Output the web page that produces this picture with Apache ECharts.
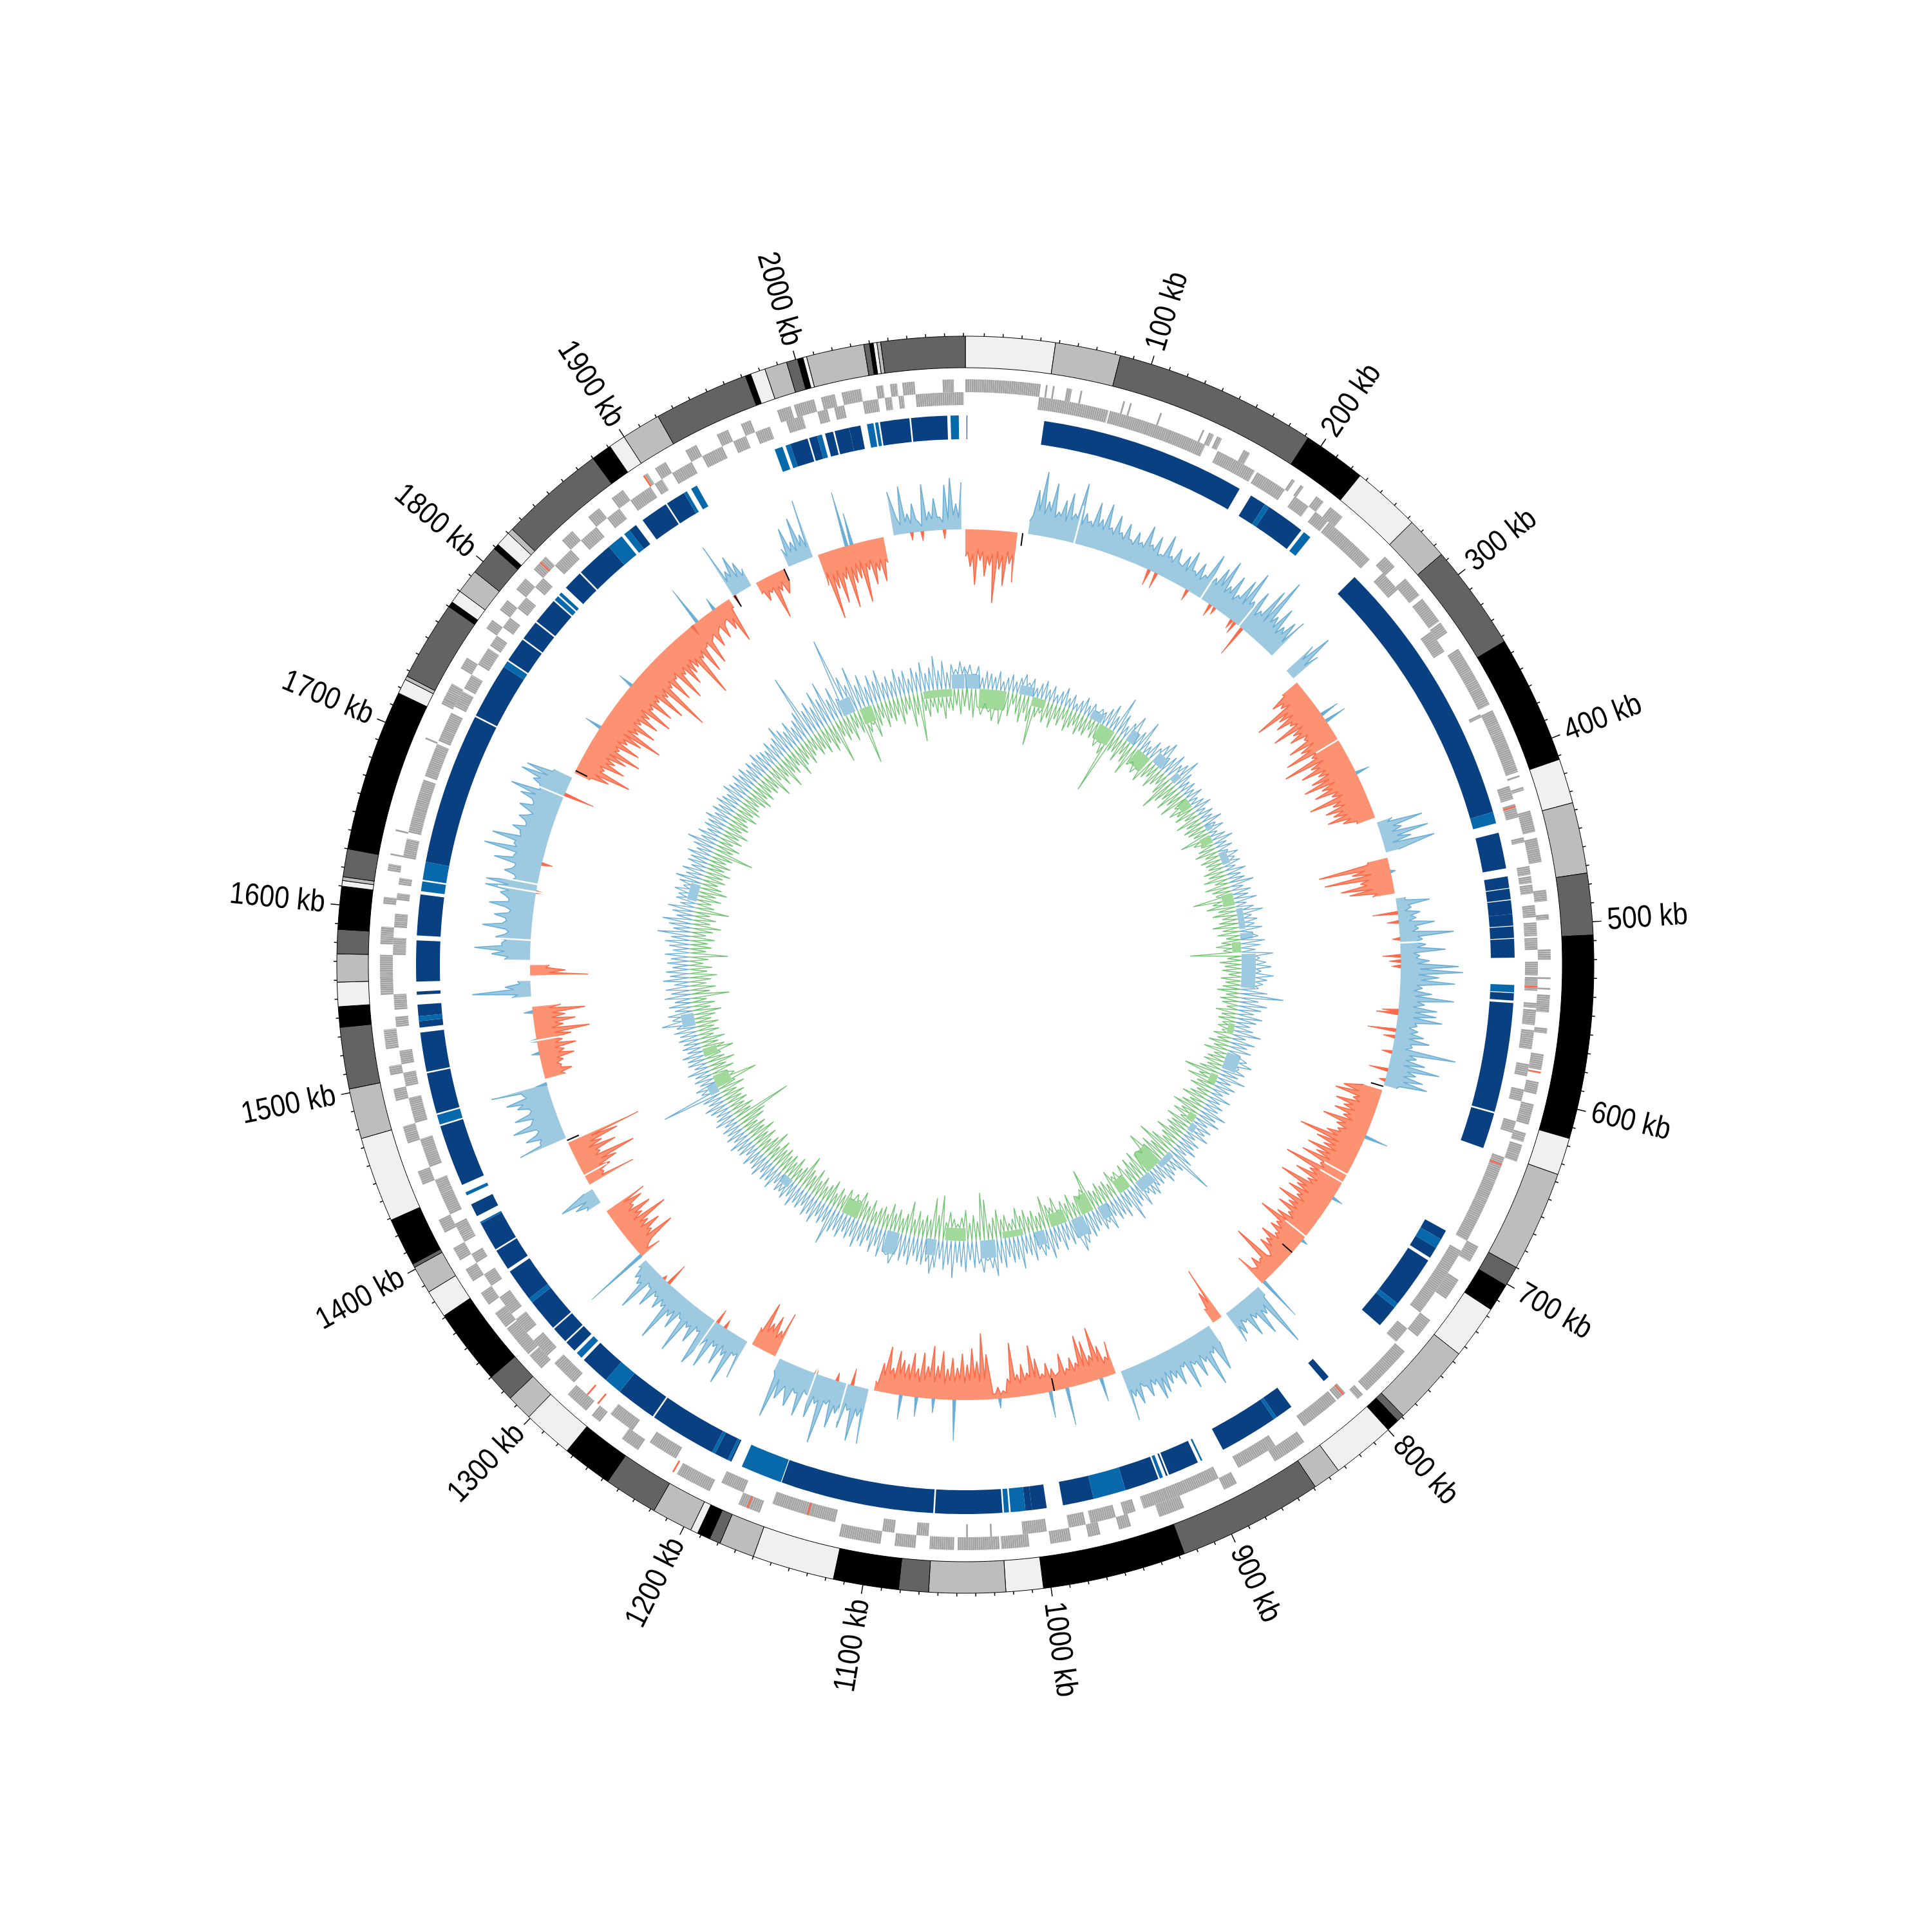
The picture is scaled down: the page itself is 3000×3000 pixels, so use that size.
<!DOCTYPE html>
<html><head><meta charset="utf-8"><style>html,body{margin:0;background:#fff}#c{width:3000px;height:3000px}</style>
<script src="https://cdn.jsdelivr.net/npm/echarts@6/dist/echarts.min.js"></script></head><body><div id="c"></div>
<script>
const genomeKb=2091;
const tickLabels=[100,200,300,400,500,600,700,800,900,1000,1100,1200,1300,1400,1500,1600,1700,1800,1900,2000];
const shadeColors={L:'#f0f0f0',G:'#bdbdbd',D:'#636363',K:'#000000'};
const contigEnds=[48,83,192,226,263,286,343,412,436,474,507,616,636,690,701,716,745,789,793,800,834,849,927,1004,1024,1065,1081,1116,1160,1179,1185,1192,1196,1218,1247,1274,1301,1315,1330,1371,1386,1401,1403,1429,1475,1502,1535,1546,1559,1574,1587,1610,1613,1615,1630,1717,1725,1727,1770,1773,1780,1793,1809,1812,1820,1823,1880,1891,1900,1921,1972,1975,1983,1995,2001,2004,2006,2037,2040,2042,2044,2046,2091];
const contigShadeCycle=['L','G','D','K'];
const geneOuter=[[0,43],[46,47],[50,51],[58,61],[66,67],[91,92],[95,96],[113,114],[139,140],[143,146],[148,151],[165,169],[197,199],[203,205],[214,219],[224,233],[266,274],[283,295],[298,314],[315,322],[333,369],[373,411],[413,414],[420,422],[434,446],[450,464],[480,486],[494,497],[514,520],[530,531],[536,537],[540,550],[559,562],[574,583],[590,597],[603,615],[620,625],[627,637],[690,700],[712,725],[740,752],[763,794],[797,801],[840,860],[885,893],[918,933],[950,957],[968,975],[985,997],[1009,1025],[1026,1050],[1052,1066],[1074,1086],[1094,1118],[1165,1170],[1170,1178],[1196,1217],[1243,1254],[1270,1276],[1280,1294],[1315,1325],[1326,1345],[1346,1356],[1362,1370],[1378,1386],[1392,1400],[1410,1418],[1440,1448],[1465,1475],[1490,1497],[1505,1510],[1520,1531],[1551,1568],[1568,1574],[1580,1590],[1603,1607],[1622,1626],[1631,1632],[1645,1646],[1700,1701],[1722,1726],[1725,1735],[1745,1752],[1772,1778],[1785,1792],[1800,1808],[1815,1825],[1838,1846],[1858,1866],[1875,1883],[1897,1900],[1905,1912],[1925,1932],[1945,1952],[1960,1966],[1982,1990],[1992,2004],[2008,2016],[2020,2031],[2040,2044],[2048,2052],[2055,2062],[2078,2084]];
const geneInner=[[43,84],[85,108],[108,122],[122,144],[152,176],[178,197],[204,214],[219,228],[229,261],[272,285],[316,330],[372,374],[417,425],[428,436],[448,451],[465,470],[471,475],[476,481],[488,495],[498,506],[507,514],[521,529],[530,538],[545,548],[549,558],[561,572],[581,588],[596,603],[615,622],[637,690],[697,740],[752,762],[804,810],[811,835],[855,880],[893,925],[925,940],[945,952],[957,972],[975,985],[998,1012],[1030,1031],[1044,1045],[1067,1074],[1087,1094],[1122,1136],[1136,1150],[1150,1160],[1178,1192],[1222,1240],[1252,1268],[1296,1312],[1318,1330],[1336,1346],[1350,1362],[1370,1378],[1386,1392],[1400,1412],[1418,1440],[1448,1465],[1475,1490],[1497,1505],[1510,1518],[1532,1538],[1542,1551],[1574,1584],[1590,1598],[1606,1610],[1615,1619],[1631,1642],[1646,1660],[1660,1678],[1680,1700],[1702,1720],[1724,1734],[1736,1745],[1752,1763],[1765,1772],[1778,1785],[1792,1800],[1808,1815],[1825,1838],[1846,1858],[1866,1875],[1883,1897],[1900,1905],[1912,1925],[1932,1945],[1952,1960],[1966,1975],[1985,1995],[2004,2010],[2014,2020],[2031,2040],[2044,2048],[2052,2055],[2062,2090]];
const geneRedOuter=[584,1172,1219,1820,1897];
const geneRedInner=[429,535,641,805,1138,1277,1285];
const geneWidthKb=1.2;
const blueBlocks=[[0.7,1.2,1],[48,174,0],[182,192,0],[192,195,1],[195,219,0],[221,226,1],[262,429,0],[429,436,1],[442,464,0],[469,476,0],[476.5,483,0],[483.5,492,0],[492,499,0],[499.5,506.5,0],[507,518.5,0],[535,539.5,1],[540,544.5,0],[546,613,0],[614,636,0],[691,697,0],[697,703,1],[703,710,0],[712,744,0],[744,747,1],[747,761,0],[805,809,0],[834,845,0],[845,847,1],[847,883,0],[897,898,1],[900,919,0],[920,921,0],[923,925,1],[926,947,0],[947,967,1],[967,986,0],[996,1005,0],[1005,1009,0],[1009,1018,1],[1019,1022,1],[1023,1064,0],[1065,1159,0],[1159.5,1185,1],[1192,1193,0],[1193,1194.5,1],[1194.5,1203,0],[1203,1205,1],[1205,1246,0],[1247,1272,0],[1272,1283,1],[1283,1301,0],[1303,1307,1],[1309,1316,0],[1317,1327,0],[1328,1348,0],[1348,1351,1],[1351,1371,0],[1373,1386,0],[1387,1405,0],[1405,1406,1],[1410,1418,0],[1424,1426,1],[1431,1469,0],[1470,1476,1],[1477,1502,0],[1503,1527,0],[1530,1534,0],[1534,1537,1],[1537,1544,0],[1550,1552,0],[1558,1583,0],[1586,1611,0],[1613,1619,1],[1620,1631,1],[1631,1724,0],[1725,1759,0],[1759,1763,1],[1764,1779,0],[1780,1792,0],[1793,1809,0],[1810,1813,1],[1814,1816,1],[1820,1832,0],[1833,1856,0],[1856,1866,1],[1868,1872,1],[1872,1877,0],[1882,1899,0],[1900,1912,0],[1912,1914,1],[1917,1921,1],[1973,1978,1],[1980,1983,1],[1983,1994,0],[1995,2000,0],[2000,2003,1],[2005,2010,0],[2011,2020,0],[2020,2027,0],[2031,2035,1],[2036,2038,1],[2039,2057,0],[2058,2080,0],[2082,2087,1]];
const blueColors=['#084081','#0868ac'];
// outer signal, one reading every 4 kb: + outward (blue), - inward (red), 0 no reading
const outerStep=4;
const outerSignal=[
-42,-58,-86,-48,-72,-55,-113,-60,-85,-50,-78,0,20,70,100,55,85,42,62,75,45,95,50,40,72,
48,75,40,62,38,55,32,48,35,65,38,55,30,65,35,52,30,48,60,32,50,35,75,40,62,
80,42,65,38,70,90,45,68,40,85,110,50,72,45,60,70,0,-63,0,55,80,50,-30,-55,-45,
-95,-60,-70,-50,-85,-55,-65,-45,-76,-60,-90,-50,-101,-60,-80,-55,-70,-86,-60,-75,-50,-90,-55,-70,-60,
-72,-50,-30,25,71,35,75,45,80,20,-30,-111,-60,-105,-50,-82,-70,-35,15,52,22,35,28,56,30,
84,35,40,70,30,45,90,97,60,85,35,50,85,40,60,60,70,32,35,45,55,30,100,40,55,
80,45,58,67,20,-30,-60,-71,-40,-65,-50,-62,-45,-75,-50,-45,-60,-101,-70,-55,-78,-60,-80,-45,-100,
-55,-75,-50,-92,-60,-70,-50,-78,-55,-68,-45,-60,-85,-50,-55,-40,-60,-45,-50,-20,-84,-30,-40,-25,-53,
15,103,40,70,35,60,30,45,54,-87,-50,-25,30,74,40,89,45,65,40,75,35,60,45,50,60,
67,40,55,35,60,45,81,-52,-30,-50,-82,-40,-65,-76,-35,-45,-30,-55,-25,-35,-45,-30,-55,-77,-35,
-50,-35,-85,-30,-12,-18,-8,-70,-103,-60,-80,-55,-72,-50,-65,-48,-75,-52,-82,-50,-70,-45,-68,-50,-55,
-68,-40,-72,-45,-15,87,45,86,40,70,50,75,40,105,45,70,35,74,40,65,35,60,94,20,-72,
-40,-60,-45,-75,-30,64,30,83,40,60,35,76,40,82,30,55,35,84,30,55,40,88,35,45,30,
55,25,75,35,30,15,-36,-20,-73,-40,-60,-45,-83,-45,-65,-40,-60,-69,0,25,40,60,15,-78,-30,
-45,-60,-94,-40,-70,-50,-80,-119,77,40,60,35,74,40,65,35,55,70,40,89,-33,-45,-30,-35,-54,
-40,-60,-40,-55,-85,-45,-65,-50,-82,-45,0,30,91,40,20,-90,-55,-30,40,60,87,45,55,35,77,
40,60,35,70,40,55,80,80,35,55,40,75,45,95,50,87,45,60,40,55,35,60,40,65,84,
40,55,78,73,30,-25,-55,-87,-40,-70,-50,-65,-85,-45,-75,-50,-70,-100,-55,-80,-50,-75,-55,-88,-50,
-80,-50,-90,-55,-121,-50,-80,-45,-90,-50,-75,-60,-55,-111,-50,-80,-40,-75,-35,-55,-30,-50,-25,-45,-70,
-15,89,40,60,45,30,-20,-35,-25,-71,-30,-38,-20,30,60,35,70,40,93,-50,-106,-60,-85,-50,-97,
-60,-55,-94,-45,-70,-50,-68,-40,0,68,25,74,30,45,15,73,30,50,20,70,80,40,73];
// magnitude of the dip between one reading and the next (same sign as its neighbours), 0 none
const outerValley=[
35,38,30,34,40,36,32,38,30,35,0,0,30,38,34,40,32,36,30,34,38,30,36,32,35,
32,36,30,34,28,32,26,30,28,34,30,26,28,30,26,32,28,24,30,26,24,32,26,30,34,
28,32,26,34,30,36,32,28,34,30,36,32,28,34,26,30,0,0,0,30,26,0,28,36,30,
40,36,44,38,34,42,36,40,34,44,38,42,36,46,40,38,42,36,44,38,34,40,36,42,38,
36,28,0,16,22,18,24,14,0,0,34,38,30,36,40,32,26,0,14,18,12,20,16,24,20,
28,22,26,20,24,26,30,28,32,26,22,24,28,22,26,24,28,20,24,22,26,20,28,24,22,
30,26,28,24,0,0,34,30,28,36,30,34,28,36,32,38,40,34,36,32,38,34,40,36,42,
40,34,38,44,36,42,34,40,36,38,32,38,42,36,34,30,36,30,28,26,28,24,22,28,0,
18,26,30,28,24,26,22,28,0,30,22,0,0,30,34,38,30,36,32,28,30,34,30,28,34,
32,30,36,28,34,32,0,24,20,26,30,24,26,28,22,26,20,28,22,20,24,22,26,28,24,
20,26,22,8,6,8,0,32,28,34,30,26,32,28,30,24,32,26,34,28,24,30,26,28,32,
24,30,26,10,0,32,34,36,30,34,38,32,36,38,34,36,30,38,34,0,0,30,28,34,30,
26,32,28,24,0,24,26,30,24,28,26,30,0,26,24,28,26,30,22,26,30,28,24,26,22,
24,20,28,22,12,10,14,30,26,34,28,32,26,34,28,36,30,0,16,20,18,0,28,24,26,
28,36,30,34,26,32,38,0,40,36,42,38,44,36,40,38,44,36,42,0,26,28,24,26,30,
26,28,24,30,26,32,28,30,26,0,0,20,26,16,0,30,24,0,34,40,44,38,42,40,46,
42,38,44,40,46,42,44,40,38,44,40,46,42,44,48,42,46,40,44,42,46,40,44,42,38,
42,44,36,32,0,26,30,34,30,36,32,34,38,36,34,40,36,38,44,38,40,42,36,44,40,
42,38,46,40,44,38,42,36,44,38,40,36,42,44,38,40,34,38,30,34,26,30,24,28,14,
0,24,28,22,20,0,16,20,18,20,16,0,0,16,20,18,22,18,0,30,36,32,38,30,34,
30,28,34,30,36,32,34,26,0,0,14,18,14,20,8,16,18,20,12,16,22,18,16];
const outerCrossKb=[145,151,178,199,203,222,219,229,483,490,503,516,520,524,558,560,573,578,590,604,612,1133,1145,1162,1240,1247,1295,1300,1624,1646,1702,1865,1905,2050,2058,2075,319,325,371,451,658,711,751,794,967,980,940,1019,1054,1070,1083,1095,1325,1476,1500,1510,1532,1760,1800,1870,1886,1999,2003];
const outerCrossVal=[-25,-25,-18,-20,-12,-20,-15,-50,-39,-18,-12,-28,-18,-14,-25,-34,-44,-18,-16,-30,-10,-26,-13,-12,-14,-23,-36,-7,-15,-17,-48,-18,-20,-12,-15,-14,30,35,22,8,37,17,10,71,59,41,37,15,63,22,30,38,103,18,12,16,14,27,24,62,20,86,50];
const outerGaps=[84,190,226,342,506,690,697,747,1137,1162,1249,1400,1510,1587,1624,1630,1700];
const blackMarks=[44,617,763,977,1430,1722,1905,1948];
// inner signal, one reading every 5 kb, outward (blue) and inward (green) magnitudes
const innerStep=5;
const innerBlue=[30,37,22,35,18,28,25,20,30,15,22,28,18,25,32,20,28,15,24,30,
18,26,14,22,30,16,24,12,20,28,18,24,14,22,20,30,40,25,60,35,
20,30,45,18,28,50,22,16,30,24,36,45,22,30,40,28,35,49,30,20,
25,18,28,15,22,30,16,25,20,32,18,28,14,24,33,20,26,16,30,22,
28,18,32,22,26,38,20,30,24,36,18,28,41,22,30,25,36,20,28,38,
30,22,49,28,38,46,30,50,40,34,28,42,68,30,44,36,26,40,32,24,
30,44,22,38,28,36,20,34,44,26,38,30,44,24,34,28,20,36,22,30,
26,43,30,40,24,34,28,38,20,32,28,36,24,40,81,36,28,32,38,26,
30,28,38,34,26,43,30,36,54,28,40,32,36,26,44,30,38,28,34,40,
32,44,54,30,38,28,42,26,36,48,32,40,28,44,34,30,52,36,40,30,
46,38,57,44,32,50,36,42,30,48,40,34,58,38,46,30,44,54,36,42,
38,30,46,34,42,28,50,38,34,45,30,42,26,38,32,44,30,36,28,40,
32,38,61,28,34,26,40,30,36,24,32,28,38,26,34,27,30,22,36,28,
32,24,36,30,26,34,22,30,28,36,24,32,26,30,22,34,28,24,30,36,
26,32,96,28,34,24,30,26,36,22,30,28,34,24,30,26,32,28,36,30,
52,34,40,28,36,26,41,30,38,24,41,30,36,26,34,28,38,26,32,39,
30,52,28,36,47,26,34,42,24,32,30,38,26,34,42,28,36,24,32,30,
38,26,34,47,28,36,24,32,30,38,26,34,28,36,30,26,38,32,28,36,
30,36,26,34,28,38,31,30,26,36,28,34,49,38,30,42,28,36,46,103,
40,50,38,60,44,68,36,52,30,125,60,44,70,38,52,30,46,34,50,28,
36,26,44,30,38,24,40,32,46,28,36,53,30,44,26,38,30,42,34];
const innerGreen=[20,34,45,28,40,22,35,48,30,52,26,38,18,32,44,28,40,76,30,22,
35,26,40,24,32,20,36,28,22,34,26,30,18,28,24,36,26,43,105,30,
28,40,24,34,51,30,20,36,26,42,30,24,38,28,22,34,59,40,30,44,
30,46,24,38,28,35,22,40,26,34,30,24,49,30,20,28,36,22,32,26,
24,34,28,38,22,40,30,26,64,34,45,28,38,24,30,41,26,35,22,30,
39,28,80,22,34,26,30,20,32,24,28,36,22,30,26,18,34,24,28,20,
26,18,30,22,34,24,38,20,28,32,24,34,56,30,46,28,36,22,30,40,
24,34,46,28,38,22,42,30,34,26,44,30,24,40,59,32,44,36,60,28,
36,24,44,30,40,26,38,22,34,30,42,24,32,28,36,26,30,67,38,24,
32,24,40,28,34,22,44,30,36,52,28,24,34,26,38,30,44,28,22,36,
30,46,34,26,63,74,30,40,28,48,36,26,34,44,28,69,38,64,30,36,
28,40,26,53,32,24,36,28,42,24,34,30,22,38,26,32,44,28,36,24,
38,26,34,22,40,30,24,36,26,42,28,34,53,30,24,38,26,34,28,36,
30,40,26,48,34,24,38,28,44,30,36,26,42,48,94,30,38,26,34,28,
36,26,42,30,68,34,24,38,28,44,30,26,48,36,28,40,24,34,28,36,
26,34,44,28,36,24,60,30,40,26,34,43,28,36,22,30,60,26,34,28,
38,24,34,46,28,36,26,54,30,24,38,28,44,34,26,36,30,40,28,36,
26,34,65,30,38,24,36,28,40,26,34,30,24,38,28,36,30,26,34,40,
28,36,26,34,30,48,24,38,28,51,30,36,26,48,34,28,40,30,24,36,
30,40,26,44,34,68,28,38,30,44,26,36,88,40,30,52,36,26,42,30,
36,28,44,30,24,52,34,77,30,40,26,36,28,46,30,34,26,40,28];
const innerBlueBands=[[0,17,22],[65,82,14],[155,170,14],[206,217,20],[247,261,18],[277,285,15],[348,355,10],[385,400,12],[455,480,10],[485,492,20],[510,550,22],[630,650,22],[725,735,10],[770,790,10],[805,825,18],[868,880,22],[900,915,30],[950,962,22],[1010,1028,28],[1080,1092,25],[1125,1140,35],[1270,1282,14],[1410,1422,15],[1495,1510,20],[1645,1665,15],[1940,1955,25],[2075,2090,22]];
const innerGreenBands=[[17,50,30],[82,99,14],[170,190,25],[225,244,25],[308,320,18],[360,370,18],[435,450,18],[495,508,14],[595,608,10],[660,672,12],[715,725,12],[785,805,35],[832,848,22],[885,900,30],[920,940,20],[975,1000,10],[1045,1070,20],[1180,1200,25],[1415,1430,25],[1455,1465,22],[1960,1975,25],[2040,2075,12]];
// ---------- radii of the rings
const R={idIn:927,idOut:976,g0:869,g1:889,g2:909,b0:816,b1:853,outer:676,inner:429};
const levelAt=(bands,kb)=>{for(const b of bands)if(kb>=b[0]&&kb<=b[1])return b[2];return 0;};
function arc(api,r0,r1,a,b){const pts=[],n=Math.max(1,Math.ceil((b-a)/3));
 for(let j=0;j<=n;j++)pts.push(api.coord([r1,a+(b-a)*j/n]));
 for(let j=n;j>=0;j--)pts.push(api.coord([r0,a+(b-a)*j/n]));return pts;}
function outerRun(sign){const out=[];outerSignal.forEach((v,i)=>{const kb=i*outerStep,same=v*sign>0;
 out.push([same?R.outer+v:null,kb]);const nx=outerSignal[i+1],m=outerValley[i];
 if(same&&nx!==undefined&&nx*sign>0&&m>0)out.push([R.outer+sign*m,kb+outerStep/2]);});return out;}
function innerRun(vals,bands,sign){const out=[];vals.forEach((v,i)=>{const kb=i*innerStep;
 out.push([R.inner+sign*v,kb]);out.push([R.inner+sign*levelAt(bands,kb+innerStep/2),kb+innerStep/2]);});return out;}
const line=(name,data,origin,lc,fc,w)=>{const s={type:'line',name,coordinateSystem:'polar',data,symbol:'none',silent:true,animation:false,connectNulls:false,
 lineStyle:{color:lc,width:w},z:4};if(fc)s.areaStyle={color:fc,opacity:1,origin};return s;};
const custom=(data,renderItem,z)=>({type:'custom',coordinateSystem:'polar',data,renderItem,silent:true,animation:false,clip:false,z:z||4});
const contigs=contigEnds.map((e,i)=>[i?contigEnds[i-1]:0,e]);
const minorTicks=[];for(let k=10;k<genomeKb;k+=10)if(k%100)minorTicks.push(k);
function geneRow(runs,r0,r1){return custom(runs,(p,api)=>{const run=runs[p.dataIndex],kids=[];
  for(let a=run[0];a<run[1];a+=geneWidthKb){const b=Math.min(a+geneWidthKb-0.12,run[1]);
   kids.push({type:'polygon',shape:{points:arc(api,r0,r1,a,Math.max(b,a+0.4))},style:{fill:'#a3a3a3'}});}
  return {type:'group',children:kids};});}
const bandRing=(bands,sign,color)=>custom(bands,(p,api)=>{const b=bands[p.dataIndex];
  return {type:'polygon',shape:{points:arc(api,R.inner,R.inner+sign*b[2],b[0],b[1])},style:{fill:color}};},3);
const option={animation:false,backgroundColor:'#fff',
 polar:{center:[1499,1498],radius:1012},
 angleAxis:{type:'value',min:0,max:genomeKb,startAngle:90,clockwise:true,show:false},
 radiusAxis:{type:'value',min:0,max:1012,show:false},
 series:[
  custom(contigs,(p,api)=>({type:'polygon',shape:{points:arc(api,R.idIn,R.idOut,contigs[p.dataIndex][0],contigs[p.dataIndex][1])},
    style:{fill:shadeColors[contigShadeCycle[p.dataIndex%4]],stroke:'#000',lineWidth:1}})),
  custom(minorTicks,(p,api)=>{const k=minorTicks[p.dataIndex],a=api.coord([R.idOut,k]),b=api.coord([R.idOut+5,k]);
    return {type:'line',shape:{x1:a[0],y1:a[1],x2:b[0],y2:b[1]},style:{stroke:'#000',lineWidth:1.5}};}),
  custom(tickLabels,(p,api)=>{const k=tickLabels[p.dataIndex],a=api.coord([R.idOut,k]),b=api.coord([R.idOut+14,k]),t=api.coord([999,k]);
    const th=k/genomeKb*2*Math.PI,right=k<genomeKb/2;
    return {type:'group',children:[{type:'line',shape:{x1:a[0],y1:a[1],x2:b[0],y2:b[1]},style:{stroke:'#000',lineWidth:1.5}},
     {type:'text',x:t[0],y:t[1],scaleX:0.87,rotation:right?Math.PI/2-th:1.5*Math.PI-th,
      style:{text:k+' kb',font:'48px "Liberation Sans",sans-serif',fill:'#000',align:right?'left':'right',verticalAlign:'middle'}}]};}),
  geneRow(geneOuter,R.g1,R.g2),
  geneRow(geneInner,R.g0,R.g1),
  custom(geneRedOuter,(p,api)=>({type:'polygon',shape:{points:arc(api,R.g1,R.g2,geneRedOuter[p.dataIndex],geneRedOuter[p.dataIndex]+1)},style:{fill:'#fb6a4a'}}),5),
  custom(geneRedInner,(p,api)=>({type:'polygon',shape:{points:arc(api,R.g0,R.g1,geneRedInner[p.dataIndex],geneRedInner[p.dataIndex]+1)},style:{fill:'#fb6a4a'}}),5),
  custom(blueBlocks,(p,api)=>{const b=blueBlocks[p.dataIndex];return {type:'polygon',shape:{points:arc(api,R.b0,R.b1,b[0],b[1])},style:{fill:blueColors[b[2]]}};}),
  line('outerBlue',outerRun(1),R.outer,'#6baed6','#9ecae1',1.6),
  line('outerRed',outerRun(-1),R.outer,'#fb6a4a','#fc9272',1.6),
  custom(outerCrossKb,(p,api)=>{const k=outerCrossKb[p.dataIndex],v=outerCrossVal[p.dataIndex],
     pts=[api.coord([R.outer,k-1.2]),api.coord([R.outer+v,k]),api.coord([R.outer,k+1.2])];
     return {type:'polygon',shape:{points:pts},style:{fill:v>0?'#6baed6':'#fb6a4a',stroke:v>0?'#6baed6':'#fb6a4a',lineWidth:1}};},5),
  custom(outerGaps,(p,api)=>{const k=outerGaps[p.dataIndex],a=api.coord([R.outer-40,k]),b=api.coord([R.outer+60,k]);
     return {type:'line',shape:{x1:a[0],y1:a[1],x2:b[0],y2:b[1]},style:{stroke:'#fff',lineWidth:2.5}};},6),
  custom(blackMarks,(p,api)=>{const k=blackMarks[p.dataIndex],a=api.coord([R.outer-20,k]),b=api.coord([R.outer,k]);
     return {type:'line',shape:{x1:a[0],y1:a[1],x2:b[0],y2:b[1]},style:{stroke:'#000',lineWidth:2}};},7),
  bandRing(innerBlueBands,1,'#9ecae1'),
  bandRing(innerGreenBands,-1,'#a1d99b'),
  line('innerBlue',innerRun(innerBlue,innerBlueBands,1),R.inner,'#6baed6',null,1.4),
  line('innerGreen',innerRun(innerGreen,innerGreenBands,-1),R.inner,'#74c476',null,1.4)
 ]};
const chart=echarts.init(document.getElementById('c'),null,{renderer:'canvas',width:3000,height:3000});
chart.setOption(option);
</script></body></html>
